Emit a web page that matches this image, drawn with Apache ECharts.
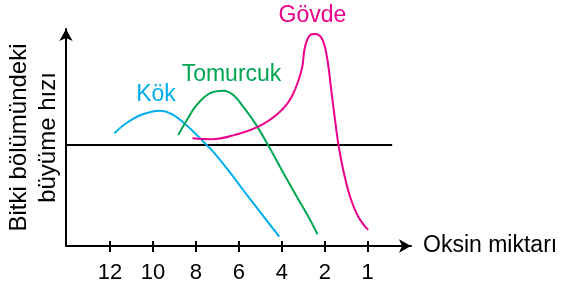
<!DOCTYPE html>
<html><head><meta charset="utf-8">
<script src="https://cdn.jsdelivr.net/npm/echarts@6/dist/echarts.min.js"></script>
<style>html,body{margin:0;padding:0;background:#fff}#c{width:561px;height:286px}</style>
</head><body><div id="c"></div>
<script>
// Tick labels (x positions are tick indices 0..6)
const tickLabels = ['12', '10', '8', '6', '4', '2', '1'];
const xAxisName = 'Oksin miktarı';
const yAxisName = 'Bitki bölümündeki\nbüyüme hızı';
const seriesNames = ['Kök', 'Tomurcuk', 'Gövde'];

// [x (tick index units), growth rate (0..100)]
const kokData = [
  [0.10, 51.9], [0.35, 56.2], [0.66, 59.9], [0.97, 61.9], [1.16, 62.3], [1.44, 60.8],
  [1.75, 56.2], [2.06, 50.4], [2.25, 46.5], [2.37, 44.2], [2.72, 35.8], [3.10, 25.8],
  [3.49, 15.8], [3.94, 4.3]
];
const tomurcukData = [
  [1.59, 51.2], [1.79, 58.1], [2.02, 65.0], [2.33, 70.4], [2.64, 71.6], [2.87, 69.6],
  [3.10, 64.2], [3.38, 56.5], [3.68, 46.5], [4.04, 33.5], [4.35, 22.7], [4.66, 12.0],
  [4.83, 5.4]
];
const govdeData = [
  [1.92, 49.6], [2.37, 49.2], [2.91, 51.2], [3.45, 55.0], [3.92, 61.2], [4.23, 68.8],
  [4.46, 81.1], [4.54, 91.8], [4.66, 97.2], [4.77, 97.7], [4.93, 95.7], [5.05, 87.2],
  [5.16, 70.4], [5.28, 51.9], [5.32, 46.5], [5.43, 35.0], [5.59, 22.7], [5.78, 13.5],
  [6.01, 7.4]
];
const referenceLine = [[-1.0245, 46.5], [6.57, 46.5]];

const colors = { kok: '#00aeef', tomurcuk: '#00a651', govde: '#ec008c' };
const FONT = 'Liberation Sans, Arial, sans-serif';

const chart = echarts.init(document.getElementById('c'), null, { renderer: 'canvas' });
const curve = (name, data, color) => ({
  type: 'line', name, data, smooth: 0.4, showSymbol: false, symbol: 'none',
  xAxisIndex: 0, yAxisIndex: 0,
  lineStyle: { color, width: 2 }, silent: true
});
chart.setOption({
  animation: false,
  backgroundColor: '#fff',
  grid: [
    { left: 66, right: 150, top: 29, bottom: 40, containLabel: false, outerBoundsMode: 'none' },
    { left: 110, right: 193.3, top: 100, bottom: 45, containLabel: false, outerBoundsMode: 'none' }
  ],
  xAxis: [
    {
      type: 'value', gridIndex: 0, min: -1.0245, max: 7.008,
      name: xAxisName, nameLocation: 'end', nameGap: 12,
      nameTextStyle: { color: '#000', fontSize: 23, fontFamily: FONT, verticalAlign: 'middle' },
      axisLine: { show: true, onZero: false, symbol: ['none', 'arrow'], symbolSize: [10, 12],
        lineStyle: { color: '#000', width: 2 } },
      axisTick: { show: false }, axisLabel: { show: false }, splitLine: { show: false }
    },
    {
      type: 'value', gridIndex: 1, min: 0, max: 6, interval: 1,
      axisLine: { show: false, onZero: false },
      axisTick: { show: true, length: 11, lineStyle: { color: '#000', width: 2 } },
      axisLabel: { show: true, margin: 21, color: '#000', fontSize: 22, fontFamily: FONT,
        formatter: v => tickLabels[Math.round(v)] ?? '' },
      splitLine: { show: false }
    }
  ],
  yAxis: [
    {
      type: 'value', gridIndex: 0, min: 0, max: 100,
      name: yAxisName, nameLocation: 'middle', nameRotate: 90, nameGap: 3,
      nameTextStyle: { color: '#000', fontSize: 24, fontFamily: FONT, lineHeight: 29, align: 'center' },
      axisLine: { show: true, onZero: false, symbol: ['none', 'arrow'], symbolSize: [10, 12],
        lineStyle: { color: '#000', width: 2 } },
      axisTick: { show: false }, axisLabel: { show: false }, splitLine: { show: false }
    },
    { type: 'value', gridIndex: 1, min: 0, max: 1, show: false }
  ],
  series: [
    { type: 'line', name: 'ref', data: referenceLine, showSymbol: false, symbol: 'none',
      lineStyle: { color: '#000', width: 2 }, silent: true },
    curve(seriesNames[0], kokData, colors.kok),
    curve(seriesNames[1], tomurcukData, colors.tomurcuk),
    curve(seriesNames[2], govdeData, colors.govde)
  ],
  graphic: [
    { type: 'text', x: 156, y: 95, style: { text: seriesNames[0], fill: colors.kok, font: '23px ' + FONT, align: 'center', verticalAlign: 'middle' } },
    { type: 'text', x: 231.5, y: 74.5, style: { text: seriesNames[1], fill: colors.tomurcuk, font: '23px ' + FONT, align: 'center', verticalAlign: 'middle' } },
    { type: 'text', x: 312.5, y: 16, style: { text: seriesNames[2], fill: colors.govde, font: '23px ' + FONT, align: 'center', verticalAlign: 'middle' } }
  ]
});
</script>
</body></html>
